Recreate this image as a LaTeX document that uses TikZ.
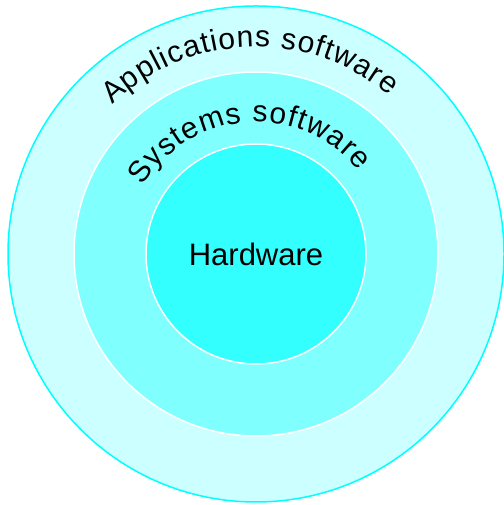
\documentclass[tikz,border=0pt]{standalone}
\usepackage{fontspec}
\setmainfont{Liberation Sans}
\usetikzlibrary{decorations.text}
\definecolor{appcyan}{HTML}{CCFFFF}
\definecolor{syscyan}{HTML}{80FFFF}
\definecolor{hwcyan}{HTML}{33FFFF}
\definecolor{rimcyan}{HTML}{00FFFF}
\tikzstyle{Ring}=[line width=1.5pt]
\tikzstyle{ArcText}=[decorate, decoration={text along path, text align=fit to path}]

\begin{document}
\begin{tikzpicture}[x=1pt, y=1pt]
    \useasboundingbox (0,0) rectangle (503,505);
    \coordinate (c) at (256,251);

    % three rings, outermost first
    \draw[Ring, draw=rimcyan, fill=appcyan] (c) circle (248pt);
    \draw[Ring, draw=white, fill=syscyan] (c) circle (182pt);
    \draw[Ring, draw=white, fill=hwcyan] (c) circle (110pt);

    \path[ArcText, decoration={text={|\fontsize{30}{30}\selectfont|Applications software}}]
        ([shift={(134:207pt)}]c) arc[start angle=134, end angle=50, radius=207pt];
    \path[ArcText, decoration={text={|\fontsize{30}{30}\selectfont|Systems software}}]
        ([shift={(149:132pt)}]c) arc[start angle=149, end angle=39, radius=132pt];

    \node (hw) at (c) {\fontsize{31}{31}\selectfont Hardware};
\end{tikzpicture}
\end{document}
